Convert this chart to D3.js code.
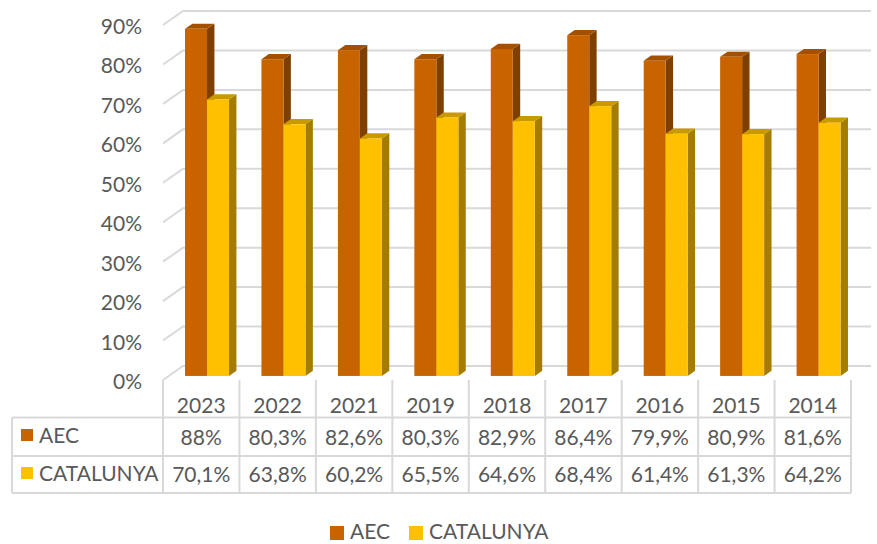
<!DOCTYPE html>
<html>
<head>
<meta charset="utf-8">
<script src="https://cdn.jsdelivr.net/npm/d3@7"></script>
<style>
  body { margin: 0; background: #fff; }
  svg text { font-family: Lato, "Open Sans", sans-serif; fill: #595959; }
</style>
</head>
<body>
<svg width="877" height="544"></svg>
<script>
// **** data ****
const years = ['2023', '2022', '2021', '2019', '2018', '2017', '2016', '2015', '2014'];
const aecValues = [88, 80.3, 82.6, 80.3, 82.9, 86.4, 79.9, 80.9, 81.6];
const catValues = [70.1, 63.8, 60.2, 65.5, 64.6, 68.4, 61.4, 61.3, 64.2];
const seriesNames = ['AEC', 'CATALUNYA'];
const yTicks = [0, 10, 20, 30, 40, 50, 60, 70, 80, 90];

// colours: front, top, side
const colours = {
    AEC: ['#c86400', '#a35000', '#7f3f00'],
    CATALUNYA: ['#ffc000', '#c99a00', '#a37c00']
};

const svg = d3.select('svg');

// **** scales ****
const xScale = d3.scaleBand().domain(years).range([163, 851]);
const yScale = d3.scaleLinear().domain([0, 90]).range([380, 25]);

// depth of the box (oblique projection)
const depthX = 20, depthY = -14;
// bars sit a bit inside the box
const barF = 0.29, barDepth = 0.37;
const barW = 22;
const fontSize = '21px';

function fmt(v) {
    return String(v).replace('.', ',') + '%';
}

// **** gridlines on back wall + side wall ****
const grid = svg.append('g').attr('class', 'grid');
yTicks.forEach(t => {
    const y = yScale(t);
    grid.append('path')
        .attr('d', `M163,${y} L${163 + depthX},${y + depthY} L${851 + depthX},${y + depthY}`)
        .attr('fill', 'none')
        .attr('stroke', '#d9d9d9')
        .attr('stroke-width', 2);
});

// y axis labels
svg.append('g').selectAll('text')
    .data(yTicks)
    .enter()
    .append('text')
    .attr('x', 142)
    .attr('y', d => yScale(d) + 9)
    .attr('text-anchor', 'end')
    .style('font-size', fontSize)
    .text(d => d + '%');

// **** bars ****
const bars = svg.append('g').attr('class', 'bars');
const inner = (xScale.bandwidth() - 2 * barW) / 2;

years.forEach((yr, i) => {
    [aecValues[i], catValues[i]].forEach((v, s) => {
        const c = colours[seriesNames[s]];
        const x0 = xScale(yr) + inner + s * barW + barF * depthX;
        const yb = yScale(0) + barF * depthY;
        const yt = yScale(v) + barF * depthY;
        const dx = barDepth * depthX, dy = barDepth * depthY;

        // side face
        bars.append('path')
            .attr('d', `M${x0 + barW},${yt} L${x0 + barW + dx},${yt + dy} L${x0 + barW + dx},${yb + dy} L${x0 + barW},${yb} Z`)
            .attr('fill', c[2]);
        // top face
        bars.append('path')
            .attr('d', `M${x0},${yt} L${x0 + dx},${yt + dy} L${x0 + barW + dx},${yt + dy} L${x0 + barW},${yt} Z`)
            .attr('fill', c[1]);
        // front face
        bars.append('rect')
            .attr('x', x0)
            .attr('y', yt)
            .attr('width', barW)
            .attr('height', yb - yt)
            .attr('fill', c[0]);
    });
});

// **** data table ****
const table = svg.append('g').attr('class', 'table');
const lineCol = '#d9d9d9';
const rowLines = [417.5, 456, 493];

rowLines.forEach(y => {
    table.append('line')
        .attr('x1', 12).attr('x2', 851)
        .attr('y1', y).attr('y2', y)
        .attr('stroke', lineCol).attr('stroke-width', 2);
});
table.append('line')
    .attr('x1', 12).attr('x2', 12)
    .attr('y1', 417.5).attr('y2', 493)
    .attr('stroke', lineCol).attr('stroke-width', 2);

years.concat(['end']).forEach((yr, i) => {
    const x = yr === 'end' ? 851 : xScale(yr);
    table.append('line')
        .attr('x1', x).attr('x2', x)
        .attr('y1', 380).attr('y2', 493)
        .attr('stroke', lineCol).attr('stroke-width', 2);
});

years.forEach((yr, i) => {
    const cx = xScale(yr) + xScale.bandwidth() / 2;
    table.append('text').attr('x', cx).attr('y', 413)
        .attr('text-anchor', 'middle').style('font-size', fontSize).text(yr);
    table.append('text').attr('x', cx).attr('y', 445)
        .attr('text-anchor', 'middle').style('font-size', fontSize).text(fmt(aecValues[i]));
    table.append('text').attr('x', cx).attr('y', 482)
        .attr('text-anchor', 'middle').style('font-size', fontSize).text(fmt(catValues[i]));
});

// row keys
seriesNames.forEach((name, s) => {
    const y = s === 0 ? 429 : 467;
    table.append('rect')
        .attr('x', 21).attr('y', y)
        .attr('width', 12).attr('height', 12)
        .attr('fill', colours[name][0]);
    table.append('text')
        .attr('x', 39).attr('y', y + 14)
        .style('font-size', fontSize)
        .text(name);
});

// **** legend ****
const legend = svg.append('g').attr('class', 'legend');
const legendX = [330, 409];
seriesNames.forEach((name, s) => {
    legend.append('rect')
        .attr('x', legendX[s]).attr('y', 526)
        .attr('width', 14).attr('height', 14)
        .attr('fill', colours[name][0]);
    legend.append('text')
        .attr('x', legendX[s] + 20).attr('y', 539)
        .style('font-size', fontSize)
        .text(name);
});
</script>
</body>
</html>
